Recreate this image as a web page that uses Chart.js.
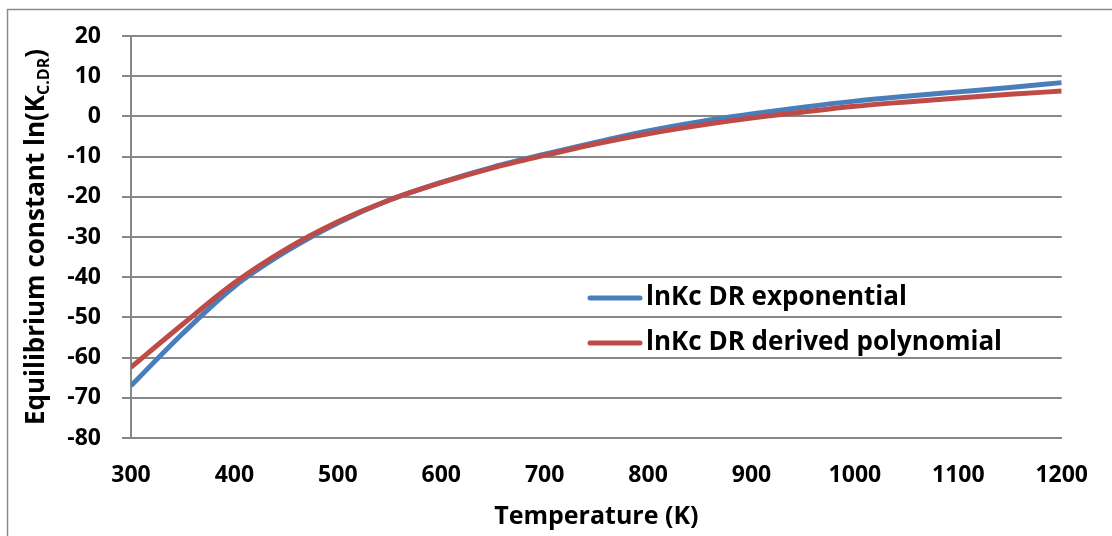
<!DOCTYPE html>
<html>
<head>
<meta charset="utf-8">
<script src="https://cdn.jsdelivr.net/npm/chart.js@4.4.0/dist/chart.umd.min.js"></script>
<style>
  html, body { margin: 0; padding: 0; background: #fff; }
  #wrap { width: 1112px; height: 536px; }
</style>
</head>
<body>
<div id="wrap"><canvas id="myChart" width="1112" height="536"></canvas></div>
<script>
// temperature (K) and ln(Kc)
const temps = [300, 350, 400, 450, 500, 550, 600, 650, 700, 750, 800, 850, 900, 950, 1000, 1050, 1100, 1150, 1200];
const lnKcExp = [-67.0, -54.0, -42.3, -33.6, -26.5, -20.8, -16.4, -12.6, -9.4, -6.4, -3.6, -1.3, 0.6, 2.3, 3.8, 5.0, 6.1, 7.2, 8.4];
const lnKcPoly = [-62.4, -51.7, -41.4, -33.0, -26.2, -20.8, -16.5, -12.8, -9.7, -6.8, -4.3, -2.2, -0.4, 1.1, 2.5, 3.6, 4.6, 5.5, 6.3];
const seriesNames = ['lnKc DR exponential', 'lnKc DR derived polynomial'];

const FONT = '"Open Sans", "Liberation Sans", sans-serif';

const toPoints = (vals) => temps.map((t, i) => ({ x: t, y: vals[i] }));

const data = {
  datasets: [{
    label: seriesNames[0],
    data: toPoints(lnKcExp),
    borderColor: '#4A7EBB',
    borderWidth: 5,
    pointRadius: 0,
    cubicInterpolationMode: 'monotone',
    order: 1
  }, {
    label: seriesNames[1],
    data: toPoints(lnKcPoly),
    borderColor: '#BE4B48',
    borderWidth: 5,
    pointRadius: 0,
    cubicInterpolationMode: 'monotone',
    order: 0 // red is drawn over blue in the original
  }]
};

// white background + the thin frame of the original chart
const framePlugin = {
  id: 'frame',
  beforeDraw(chart) {
    const c = chart.ctx;
    c.save();
    c.fillStyle = '#fff';
    c.fillRect(0, 0, chart.width, chart.height);
    c.strokeStyle = '#8c8c8c';
    c.lineWidth = 1.5;
    c.strokeRect(7.5, 9.5, 1120, 600);
    c.restore();
  }
};

// y title with a subscript, which the built-in title cannot do
const yTitlePlugin = {
  id: 'yTitle',
  afterDraw(chart) {
    const c = chart.ctx;
    const area = chart.chartArea;
    const main = 'bold 26px ' + FONT;
    const sub = 'bold 16px ' + FONT;
    const parts = [['Equilibrium constant ln(K', main, 0], ['C.DR', sub, 7], [')', main, 0]];
    c.save();
    let total = 0;
    parts.forEach(p => { c.font = p[1]; total += c.measureText(p[0]).width; });
    c.translate(37, (area.top + area.bottom) / 2);
    c.rotate(-Math.PI / 2);
    c.fillStyle = '#000';
    c.textBaseline = 'middle';
    let x = -total / 2;
    parts.forEach(p => {
      c.font = p[1];
      c.fillText(p[0], x, p[2]);
      x += c.measureText(p[0]).width;
    });
    c.restore();
  }
};

// legend sits inside the plot area
const legendPlugin = {
  id: 'insideLegend',
  afterDraw(chart) {
    const c = chart.ctx;
    c.save();
    c.font = 'bold 26px ' + FONT;
    c.textBaseline = 'middle';
    chart.data.datasets.forEach((ds, i) => {
      const y = 298 + i * 45;
      c.strokeStyle = ds.borderColor;
      c.lineWidth = 5;
      c.lineCap = 'round';
      c.beginPath();
      c.moveTo(590, y);
      c.lineTo(640, y);
      c.stroke();
      c.fillStyle = '#000';
      c.fillText(ds.label, 646, y);
    });
    c.restore();
  }
};

const config = {
  type: 'line',
  data,
  options: {
    responsive: false,
    animation: false,
    layout: { padding: { top: 36, right: 47, left: 0, bottom: 0 } },
    plugins: {
      legend: { display: false },
      tooltip: { enabled: false }
    },
    scales: {
      x: {
        type: 'linear',
        min: 300,
        max: 1200,
        ticks: {
          stepSize: 100,
          color: '#000',
          padding: 24,
          font: { family: FONT, size: 23, weight: 'bold' },
          callback: (v) => String(v)
        },
        grid: { display: false, drawTicks: false },
        border: { color: '#878787', width: 2 },
        title: {
          display: true,
          text: 'Temperature (K)',
          color: '#000',
          padding: { top: 4 },
          font: { family: FONT, size: 25, weight: 'bold' }
        },
        afterFit(scale) { scale.height = 98; }
      },
      y: {
        min: -80,
        max: 20,
        ticks: {
          stepSize: 10,
          color: '#000',
          padding: 21,
          font: { family: FONT, size: 23, weight: 'bold' }
        },
        grid: { color: '#878787', lineWidth: 2, tickLength: 9 },
        border: { color: '#878787', width: 2 },
        afterFit(scale) { scale.width = 131; }
      }
    }
  },
  plugins: [framePlugin, yTitlePlugin, legendPlugin]
};

let myChart = new Chart(
  document.getElementById('myChart'),
  config
);
</script>
</body>
</html>
